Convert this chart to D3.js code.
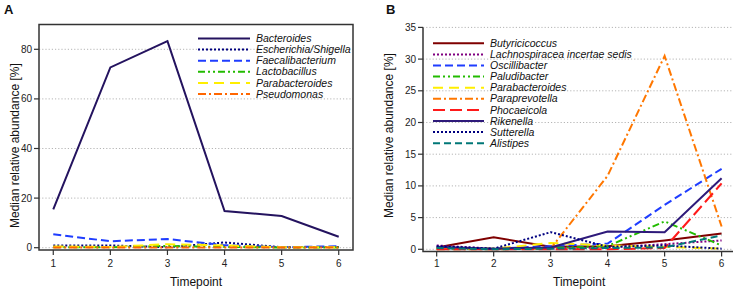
<!DOCTYPE html>
<html>
<head>
<meta charset="utf-8">
<script src="https://cdn.jsdelivr.net/npm/d3@7"></script>
<style>
  body { margin: 0; background: #fff; }
  svg { display: block; font-family: "Liberation Sans", Arial, sans-serif; }
</style>
</head>
<body>
<svg width="737" height="290"></svg>
<script>
const timepoints = [1, 2, 3, 4, 5, 6];

// Panel A genera
const generaA = ["Bacteroides", "Escherichia/Shigella", "Faecalibacterium", "Lactobacillus", "Parabacteroides", "Pseudomonas"];
const bacteroidesA = [15.5, 72.7, 83.3, 14.8, 12.8, 4.4];
const escherichiaA = [0.9, 0.9, 0.2, 2.1, 0.2, 0.3];
const faecalibacteriumA = [5.4, 2.6, 3.5, 1.0, 0.2, 0.6];
const lactobacillusA = [0.2, 0.2, 0.7, 0.3, 0.1, 0.1];
const parabacteroidesA = [0.5, 0.3, 1.4, 0.9, 0.2, 0.2];
const pseudomonasA = [0.1, 0.1, 0.1, 0.1, 0.1, 0.1];
const ticksA = [0, 20, 40, 60, 80];

// Panel B genera
const generaB = ["Butyricicoccus", "Lachnospiracea incertae sedis", "Oscillibacter", "Paludibacter", "Parabacteroides",
  "Paraprevotella", "Phocaeicola", "Rikenella", "Sutterella", "Alistipes"];
const butyricicoccusB = [0.3, 1.9, 0.4, 0.5, 1.4, 2.5];
const lachnospiraceaB = [0.6, 0.1, 0.1, 0.3, 0.8, 1.4];
const oscillibacterB = [0.2, 0.1, 0.5, 0.9, 7.0, 12.7];
const paludibacterB = [0.1, 0.1, 0.2, 0.5, 4.4, 0.6];
const parabacteroidesB = [0.2, 0.1, 1.0, 0.6, 0.4, 0.1];
const paraprevotellaB = [0.0, 0.0, 0.1, 11.6, 30.5, 3.6];
const phocaeicolaB = [0.0, 0.0, 0.0, 0.0, 0.2, 10.4];
const rikenellaB = [0.4, 0.1, 0.3, 2.8, 2.7, 11.2];
const sutterellaB = [0.5, 0.1, 2.7, 0.4, 0.6, 0.1];
const alistipesB = [0.2, 0.0, 0.1, 0.2, 0.3, 2.2];
const ticksB = [0, 5, 10, 15, 20, 25, 30, 35];

const styleA = [
  { color: "#24135f", dash: null },
  { color: "#00007f", dash: "2,2" },
  { color: "#1f3dff", dash: "8,4" },
  { color: "#22bb00", dash: "7,3,2,3,2,3" },
  { color: "#ffee00", dash: "10,6" },
  { color: "#ff6600", dash: "8,3,2,3" }
];
const styleB = [
  { color: "#7f0000", dash: null },
  { color: "#800080", dash: "2,2" },
  { color: "#1f3dff", dash: "8,4" },
  { color: "#22bb00", dash: "7,3,2,3,2,3" },
  { color: "#ffee00", dash: "10,6" },
  { color: "#ff7700", dash: "8,3,2,3" },
  { color: "#ff1a1a", dash: "12,5" },
  { color: "#2e1a7a", dash: null },
  { color: "#000080", dash: "2,2" },
  { color: "#007777", dash: "7,4" }
];

const seriesA = [bacteroidesA, escherichiaA, faecalibacteriumA, lactobacillusA, parabacteroidesA, pseudomonasA];
const seriesB = [butyricicoccusB, lachnospiraceaB, oscillibacterB, paludibacterB, parabacteroidesB,
  paraprevotellaB, phocaeicolaB, rikenellaB, sutterellaB, alistipesB];

const svg = d3.select("svg");

function panel(opts) {
  const { x, y, series, names, styles, ticks, boxed, letter, letterX, ylabX, legend } = opts;
  const g = svg.append("g");
  const [x0, x1] = x.range();
  const yTop = y(ticks[ticks.length - 1]);
  const yBot = y.range()[0] + 2.3;

  // grid
  g.selectAll(".grid").data(ticks).join("line")
    .attr("x1", x0).attr("x2", x1)
    .attr("y1", d => y(d)).attr("y2", d => y(d))
    .attr("stroke", "#b5b5b5").attr("stroke-width", 1)
    .attr("stroke-dasharray", "1.2,2");

  // lines
  const line = d3.line().x((d, i) => x(timepoints[i])).y(d => y(d));
  series.forEach((s, i) => {
    g.append("path").datum(s)
      .attr("d", line)
      .attr("fill", "none")
      .attr("stroke", styles[i].color)
      .attr("stroke-width", 2)
      .attr("stroke-dasharray", styles[i].dash);
  });

  // frame / axes lines
  if (boxed) {
    g.append("rect").attr("x", x0).attr("y", opts.boxTop)
      .attr("width", x1 - x0).attr("height", yBot - opts.boxTop)
      .attr("fill", "none").attr("stroke", "#333").attr("stroke-width", 1.5);
  } else {
    g.append("path")
      .attr("d", `M${x0},${yTop}V${yBot}H${x1}`)
      .attr("fill", "none").attr("stroke", "#333").attr("stroke-width", 1.5);
  }

  // y ticks
  g.selectAll(".yt").data(ticks).join("line")
    .attr("x1", x0 - 5).attr("x2", x0)
    .attr("y1", d => y(d)).attr("y2", d => y(d))
    .attr("stroke", "#333").attr("stroke-width", 1.2);
  g.selectAll(".yl").data(ticks).join("text")
    .attr("x", x0 - 7).attr("y", d => y(d))
    .attr("dy", "0.35em").attr("text-anchor", "end")
    .attr("font-size", 10).attr("fill", "#222")
    .text(d => d);

  // x ticks
  g.selectAll(".xt").data(timepoints).join("line")
    .attr("x1", d => x(d)).attr("x2", d => x(d))
    .attr("y1", yBot).attr("y2", yBot + 5)
    .attr("stroke", "#333").attr("stroke-width", 1.2);
  g.selectAll(".xl").data(timepoints).join("text")
    .attr("x", d => x(d)).attr("y", 267)
    .attr("text-anchor", "middle")
    .attr("font-size", 10).attr("fill", "#222")
    .text(d => d);

  g.append("text")
    .attr("x", (x(1) + x(6)) / 2).attr("y", 286)
    .attr("text-anchor", "middle").attr("font-size", 12).attr("fill", "#111")
    .text("Timepoint");

  g.append("text")
    .attr("transform", `translate(${ylabX},${(yTop + yBot) / 2 - 4}) rotate(-90)`)
    .attr("text-anchor", "middle").attr("font-size", 12).attr("fill", "#111")
    .text("Median relative abundance [%]");

  g.append("text")
    .attr("x", letterX).attr("y", 14)
    .attr("font-size", 13).attr("font-weight", "bold").attr("fill", "#111")
    .text(letter);

  // legend
  const lg = g.append("g");
  names.forEach((n, i) => {
    const ly = legend.y + i * legend.step;
    lg.append("line")
      .attr("x1", legend.x).attr("x2", legend.x + legend.len)
      .attr("y1", ly).attr("y2", ly)
      .attr("stroke", styles[i].color).attr("stroke-width", 2)
      .attr("stroke-dasharray", styles[i].dash);
    lg.append("text")
      .attr("x", legend.x + legend.len + 6).attr("y", ly)
      .attr("dy", "0.35em").attr("font-size", 10.5)
      .attr("font-style", "italic").attr("fill", "#111")
      .text(n);
  });
}

const xA = d3.scaleLinear().domain([0.75, 6.25]).range([39, 353]);
const yA = d3.scaleLinear().domain([0, 90]).range([247.7, 24.5]);
panel({
  x: xA, y: yA, series: seriesA, names: generaA, styles: styleA, ticks: ticksA,
  boxed: true, boxTop: yA(90), letter: "A", letterX: 4, ylabX: 19,
  legend: { x: 198, len: 52, y: 38.5, step: 11.1 }
});

const xB = d3.scaleLinear().domain([0.76, 6.2]).range([423, 733]);
const yB = d3.scaleLinear().domain([0, 35]).range([249.3, 27.4]);
panel({
  x: xB, y: yB, series: seriesB, names: generaB, styles: styleB, ticks: ticksB,
  boxed: false, letter: "B", letterX: 386, ylabX: 393,
  legend: { x: 433, len: 51, y: 43.3, step: 11.1 }
});
</script>
</body>
</html>
